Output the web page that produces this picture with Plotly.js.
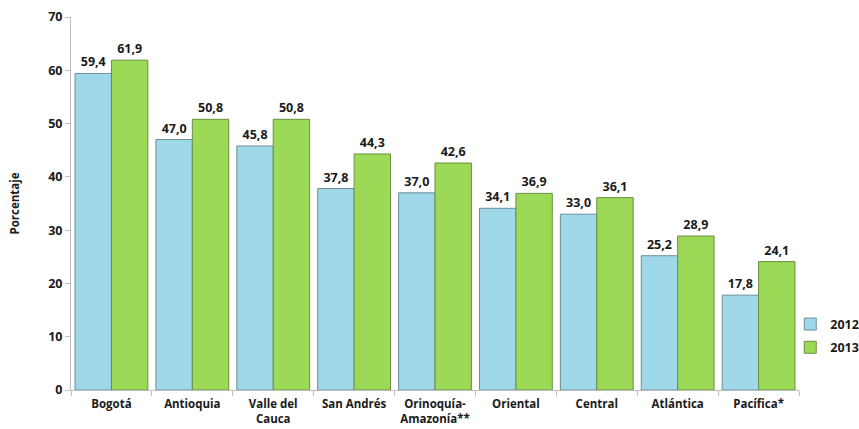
<!DOCTYPE html>
<html><head><meta charset="utf-8">
<script src="https://cdn.plot.ly/plotly-3.0.1.min.js"></script>
<style>html,body{margin:0;padding:0;background:#fff}#c{width:859px;height:429px}</style>
</head><body><div id="c"></div>
<script>
const categories = ["Bogotá","Antioquia","Valle del<br>Cauca","San Andrés","Orinoquía-<br>Amazonía**","Oriental","Central","Atlántica","Pacífica*"];
const values2012 = [59.4,47.0,45.8,37.8,37.0,34.1,33.0,25.2,17.8];
const values2013 = [61.9,50.8,50.8,44.3,42.6,36.9,36.1,28.9,24.1];
const tickVals = [0,10,20,30,40,50,60,70];
const fontFam = "Open Sans, Liberation Sans, sans-serif";
const common = {type:'bar', x:categories, texttemplate:'%{y:.1f}', textposition:'outside', cliponaxis:false,
  textfont:{family:fontFam,size:12.5,color:'#1a1a1a',weight:'bold'}};
const data = [
  Object.assign({}, common, {name:'2012', legendgroup:'a', y:values2012, marker:{color:'#9fd8e8', line:{color:'#6b8f99', width:1}}}),
  Object.assign({}, common, {name:'2013', legendgroup:'b', y:values2013, marker:{color:'#9bd957', line:{color:'#6a8f45', width:1}}})
];
const layout = {
  width:859, height:429, margin:{l:71,r:60,t:17,b:39,autoexpand:false},
  separators:',.', barmode:'group', bargap:0.1, bargroupgap:0,
  paper_bgcolor:'#fff', plot_bgcolor:'#fff', showlegend:true,
  font:{family:fontFam, color:'#1a1a1a'},
  xaxis:{showline:true, linecolor:'#bfbfbf', ticks:'outside', tickcolor:'#bfbfbf', ticklen:5,
    tickson:'boundaries', showgrid:false, tickfont:{size:11.5, weight:'bold', family:fontFam}, tickangle:0,
    ticklabelstandoff:3, automargin:false},
  yaxis:{range:[0,70], tickvals:tickVals, showline:true, linecolor:'#bfbfbf', ticks:'outside', tickcolor:'#bfbfbf', ticklen:5,
    showgrid:false, zeroline:false, tickfont:{size:12.5, weight:'bold', family:fontFam},
    title:{text:'Porcentaje', font:{size:11.5, weight:'bold', family:fontFam}, standoff:26}, automargin:false},
  legend:{x:0.988, y:0.145, xanchor:'left', yanchor:'middle', bgcolor:'rgba(0,0,0,0)',
    font:{size:12.5, weight:'bold', family:fontFam},
    itemwidth:30, traceorder:'grouped', tracegroupgap:4}
};
Plotly.newPlot('c', data, layout, {displayModeBar:false, staticPlot:true});
</script></body></html>
